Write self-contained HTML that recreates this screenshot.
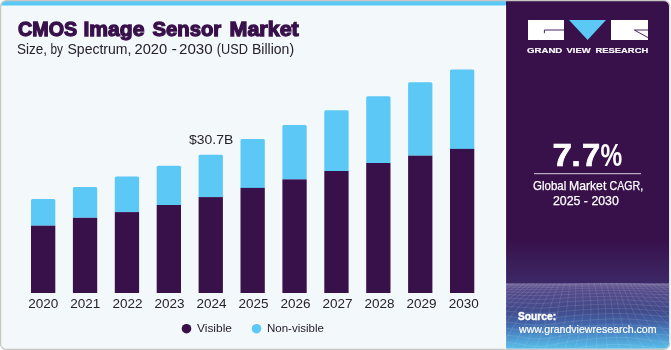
<!DOCTYPE html>
<html><head><meta charset="utf-8">
<style>
html,body{margin:0;padding:0;background:#fff;width:671px;height:350px;overflow:hidden;}
svg{display:block;will-change:transform;font-family:"Liberation Sans", sans-serif;}
</style></head>
<body>
<svg width="671" height="350" viewBox="0 0 671 350">
<defs>
  <clipPath id="card"><rect x="1.1" y="1.1" width="667.9" height="347.7" rx="5" ry="5"/></clipPath>
  <clipPath id="meshclip"><rect x="506" y="283" width="165" height="67"/></clipPath>
  <linearGradient id="meshg" x1="0" y1="0" x2="0" y2="1">
    <stop offset="0" stop-color="#62558f"/>
    <stop offset="0.1" stop-color="#564a8a"/>
    <stop offset="0.42" stop-color="#404b8b"/>
    <stop offset="0.59" stop-color="#4262a6"/>
    <stop offset="0.76" stop-color="#4a8cc8"/>
    <stop offset="1" stop-color="#5ac3ee"/>
  </linearGradient>
  <linearGradient id="purg" x1="0" y1="0" x2="0" y2="1">
    <stop offset="0" stop-color="#38104a"/>
    <stop offset="0.84" stop-color="#38104a"/>
    <stop offset="1" stop-color="#3c2866"/>
  </linearGradient>
</defs>
<rect x="0.6" y="0.6" width="669" height="348.8" rx="5.5" ry="5.5" fill="#f3f8fb"/>
<g clip-path="url(#card)">
  <rect x="0" y="0" width="671" height="5.5" fill="#5bc8f5"/>
  <rect x="506" y="0" width="165" height="283" fill="url(#purg)"/>
  <rect x="506" y="283" width="165" height="67" fill="url(#meshg)"/>
  <g clip-path="url(#meshclip)" stroke="#ffffff" stroke-opacity="0.14" stroke-width="0.8" fill="none">
<path d="M506.0 284.43 L510.1 284.53 L514.1 284.61 L518.2 284.68 L522.3 284.73 L526.4 284.77 L530.5 284.79 L534.5 284.80 L538.6 284.79 L542.7 284.76 L546.8 284.71 L550.8 284.65 L554.9 284.57 L559.0 284.49 L563.0 284.39 L567.1 284.29 L571.2 284.19 L575.3 284.08 L579.4 283.98 L583.4 283.89 L587.5 283.81 L591.6 283.73 L595.6 283.68 L599.7 283.63 L603.8 283.61 L607.9 283.60 L612.0 283.61 L616.0 283.64 L620.1 283.68 L624.2 283.74 L628.2 283.81 L632.3 283.90 L636.4 283.99 L640.5 284.09 L644.5 284.19 L648.6 284.30 L652.7 284.40 L656.8 284.49 L660.9 284.58 L664.9 284.65 L669.0 284.71"/>
<path d="M506.0 284.77 L510.1 284.86 L514.1 284.95 L518.2 285.02 L522.3 285.08 L526.4 285.12 L530.5 285.15 L534.5 285.16 L538.6 285.15 L542.7 285.12 L546.8 285.07 L550.8 285.00 L554.9 284.92 L559.0 284.83 L563.0 284.73 L567.1 284.63 L571.2 284.52 L575.3 284.41 L579.4 284.31 L583.4 284.22 L587.5 284.13 L591.6 284.06 L595.6 284.00 L599.7 283.95 L603.8 283.93 L607.9 283.92 L612.0 283.92 L616.0 283.95 L620.1 283.99 L624.2 284.05 L628.2 284.13 L632.3 284.21 L636.4 284.31 L640.5 284.41 L644.5 284.52 L648.6 284.62 L652.7 284.73 L656.8 284.82 L660.9 284.91 L664.9 284.99 L669.0 285.05"/>
<path d="M506.0 285.69 L510.1 285.79 L514.1 285.88 L518.2 285.96 L522.3 286.03 L526.4 286.09 L530.5 286.12 L534.5 286.14 L538.6 286.13 L542.7 286.10 L546.8 286.04 L550.8 285.97 L554.9 285.87 L559.0 285.77 L563.0 285.66 L567.1 285.54 L571.2 285.43 L575.3 285.32 L579.4 285.21 L583.4 285.11 L587.5 285.02 L591.6 284.94 L595.6 284.87 L599.7 284.82 L603.8 284.79 L607.9 284.78 L612.0 284.78 L616.0 284.81 L620.1 284.85 L624.2 284.91 L628.2 284.99 L632.3 285.07 L636.4 285.17 L640.5 285.28 L644.5 285.40 L648.6 285.51 L652.7 285.62 L656.8 285.72 L660.9 285.82 L664.9 285.90 L669.0 285.97"/>
<path d="M506.0 287.14 L510.1 287.25 L514.1 287.36 L518.2 287.46 L522.3 287.55 L526.4 287.62 L530.5 287.67 L534.5 287.69 L538.6 287.68 L542.7 287.65 L546.8 287.58 L550.8 287.49 L554.9 287.39 L559.0 287.26 L563.0 287.13 L567.1 287.00 L571.2 286.87 L575.3 286.75 L579.4 286.63 L583.4 286.52 L587.5 286.42 L591.6 286.33 L595.6 286.26 L599.7 286.20 L603.8 286.17 L607.9 286.15 L612.0 286.15 L616.0 286.17 L620.1 286.21 L624.2 286.27 L628.2 286.35 L632.3 286.44 L636.4 286.55 L640.5 286.66 L644.5 286.79 L648.6 286.91 L652.7 287.04 L656.8 287.15 L660.9 287.26 L664.9 287.35 L669.0 287.42"/>
<path d="M506.0 289.11 L510.1 289.24 L514.1 289.36 L518.2 289.48 L522.3 289.59 L526.4 289.68 L530.5 289.75 L534.5 289.79 L538.6 289.79 L542.7 289.75 L546.8 289.68 L550.8 289.57 L554.9 289.43 L559.0 289.28 L563.0 289.13 L567.1 288.97 L571.2 288.83 L575.3 288.68 L579.4 288.55 L583.4 288.43 L587.5 288.32 L591.6 288.22 L595.6 288.14 L599.7 288.07 L603.8 288.03 L607.9 288.00 L612.0 287.99 L616.0 288.01 L620.1 288.04 L624.2 288.10 L628.2 288.19 L632.3 288.29 L636.4 288.41 L640.5 288.54 L644.5 288.67 L648.6 288.81 L652.7 288.95 L656.8 289.08 L660.9 289.20 L664.9 289.31 L669.0 289.39"/>
<path d="M506.0 291.58 L510.1 291.73 L514.1 291.88 L518.2 292.02 L522.3 292.16 L526.4 292.28 L530.5 292.37 L534.5 292.43 L538.6 292.44 L542.7 292.39 L546.8 292.30 L550.8 292.16 L554.9 292.00 L559.0 291.82 L563.0 291.63 L567.1 291.45 L571.2 291.27 L575.3 291.11 L579.4 290.96 L583.4 290.83 L587.5 290.70 L591.6 290.59 L595.6 290.50 L599.7 290.42 L603.8 290.36 L607.9 290.32 L612.0 290.31 L616.0 290.31 L620.1 290.35 L624.2 290.41 L628.2 290.50 L632.3 290.61 L636.4 290.74 L640.5 290.88 L644.5 291.04 L648.6 291.20 L652.7 291.36 L656.8 291.51 L660.9 291.64 L664.9 291.76 L669.0 291.86"/>
<path d="M506.0 294.54 L510.1 294.71 L514.1 294.89 L518.2 295.06 L522.3 295.23 L526.4 295.39 L530.5 295.51 L534.5 295.59 L538.6 295.60 L542.7 295.55 L546.8 295.44 L550.8 295.27 L554.9 295.07 L559.0 294.85 L563.0 294.63 L567.1 294.41 L571.2 294.21 L575.3 294.02 L579.4 293.85 L583.4 293.70 L587.5 293.56 L591.6 293.43 L595.6 293.32 L599.7 293.23 L603.8 293.16 L607.9 293.10 L612.0 293.08 L616.0 293.08 L620.1 293.11 L624.2 293.17 L628.2 293.26 L632.3 293.38 L636.4 293.53 L640.5 293.69 L644.5 293.87 L648.6 294.06 L652.7 294.24 L656.8 294.41 L660.9 294.57 L664.9 294.70 L669.0 294.82"/>
<path d="M506.0 297.98 L510.1 298.18 L514.1 298.38 L518.2 298.60 L522.3 298.80 L526.4 299.00 L530.5 299.16 L534.5 299.26 L538.6 299.28 L542.7 299.23 L546.8 299.09 L550.8 298.89 L554.9 298.64 L559.0 298.38 L563.0 298.11 L567.1 297.86 L571.2 297.62 L575.3 297.41 L579.4 297.21 L583.4 297.03 L587.5 296.87 L591.6 296.73 L595.6 296.60 L599.7 296.49 L603.8 296.40 L607.9 296.34 L612.0 296.30 L616.0 296.29 L620.1 296.32 L624.2 296.38 L628.2 296.48 L632.3 296.61 L636.4 296.77 L640.5 296.96 L644.5 297.17 L648.6 297.38 L652.7 297.59 L656.8 297.79 L660.9 297.97 L664.9 298.13 L669.0 298.25"/>
<path d="M506.0 301.89 L510.1 302.12 L514.1 302.36 L518.2 302.61 L522.3 302.87 L526.4 303.11 L530.5 303.30 L534.5 303.43 L538.6 303.47 L542.7 303.41 L546.8 303.24 L550.8 303.00 L554.9 302.71 L559.0 302.39 L563.0 302.07 L567.1 301.77 L571.2 301.50 L575.3 301.25 L579.4 301.03 L583.4 300.83 L587.5 300.65 L591.6 300.48 L595.6 300.34 L599.7 300.21 L603.8 300.10 L607.9 300.02 L612.0 299.96 L616.0 299.95 L620.1 299.97 L624.2 300.03 L628.2 300.13 L632.3 300.28 L636.4 300.47 L640.5 300.68 L644.5 300.91 L648.6 301.16 L652.7 301.40 L656.8 301.63 L660.9 301.84 L664.9 302.02 L669.0 302.16"/>
<path d="M506.0 306.27 L510.1 306.53 L514.1 306.81 L518.2 307.11 L522.3 307.42 L526.4 307.71 L530.5 307.95 L534.5 308.11 L538.6 308.16 L542.7 308.08 L546.8 307.89 L550.8 307.61 L554.9 307.26 L559.0 306.88 L563.0 306.51 L567.1 306.16 L571.2 305.84 L575.3 305.56 L579.4 305.31 L583.4 305.08 L587.5 304.87 L591.6 304.68 L595.6 304.51 L599.7 304.36 L603.8 304.23 L607.9 304.13 L612.0 304.07 L616.0 304.04 L620.1 304.05 L624.2 304.11 L628.2 304.23 L632.3 304.39 L636.4 304.60 L640.5 304.84 L644.5 305.11 L648.6 305.38 L652.7 305.66 L656.8 305.92 L660.9 306.16 L664.9 306.37 L669.0 306.54"/>
<path d="M506.0 311.11 L510.1 311.41 L514.1 311.74 L518.2 312.09 L522.3 312.45 L526.4 312.79 L530.5 313.08 L534.5 313.27 L538.6 313.34 L542.7 313.25 L546.8 313.03 L550.8 312.70 L554.9 312.29 L559.0 311.85 L563.0 311.41 L567.1 311.01 L571.2 310.64 L575.3 310.32 L579.4 310.03 L583.4 309.78 L587.5 309.54 L591.6 309.33 L595.6 309.13 L599.7 308.96 L603.8 308.81 L607.9 308.69 L612.0 308.60 L616.0 308.56 L620.1 308.57 L624.2 308.63 L628.2 308.75 L632.3 308.93 L636.4 309.16 L640.5 309.44 L644.5 309.74 L648.6 310.06 L652.7 310.37 L656.8 310.67 L660.9 310.95 L664.9 311.18 L669.0 311.38"/>
<path d="M506.0 316.41 L510.1 316.75 L514.1 317.12 L518.2 317.53 L522.3 317.95 L526.4 318.35 L530.5 318.69 L534.5 318.92 L538.6 319.00 L542.7 318.91 L546.8 318.65 L550.8 318.26 L554.9 317.79 L559.0 317.28 L563.0 316.78 L567.1 316.31 L571.2 315.89 L575.3 315.53 L579.4 315.20 L583.4 314.91 L587.5 314.65 L591.6 314.41 L595.6 314.19 L599.7 313.98 L603.8 313.81 L607.9 313.66 L612.0 313.56 L616.0 313.50 L620.1 313.51 L624.2 313.57 L628.2 313.70 L632.3 313.90 L636.4 314.16 L640.5 314.47 L644.5 314.81 L648.6 315.17 L652.7 315.53 L656.8 315.87 L660.9 316.18 L664.9 316.45 L669.0 316.67"/>
<path d="M506.0 322.16 L510.1 322.54 L514.1 322.97 L518.2 323.43 L522.3 323.92 L526.4 324.39 L530.5 324.78 L534.5 325.06 L538.6 325.15 L542.7 325.05 L546.8 324.76 L550.8 324.31 L554.9 323.76 L559.0 323.17 L563.0 322.60 L567.1 322.07 L571.2 321.59 L575.3 321.18 L579.4 320.82 L583.4 320.49 L587.5 320.19 L591.6 319.92 L595.6 319.67 L599.7 319.44 L603.8 319.24 L607.9 319.07 L612.0 318.95 L616.0 318.87 L620.1 318.87 L624.2 318.93 L628.2 319.08 L632.3 319.30 L636.4 319.58 L640.5 319.93 L644.5 320.31 L648.6 320.72 L652.7 321.13 L656.8 321.51 L660.9 321.86 L664.9 322.17 L669.0 322.42"/>
<path d="M506.0 328.35 L510.1 328.78 L514.1 329.27 L518.2 329.80 L522.3 330.36 L526.4 330.89 L530.5 331.35 L534.5 331.67 L538.6 331.78 L542.7 331.67 L546.8 331.34 L550.8 330.82 L554.9 330.20 L559.0 329.53 L563.0 328.87 L567.1 328.27 L571.2 327.74 L575.3 327.27 L579.4 326.87 L583.4 326.50 L587.5 326.17 L591.6 325.87 L595.6 325.58 L599.7 325.32 L603.8 325.09 L607.9 324.90 L612.0 324.75 L616.0 324.66 L620.1 324.65 L624.2 324.71 L628.2 324.87 L632.3 325.11 L636.4 325.43 L640.5 325.82 L644.5 326.25 L648.6 326.70 L652.7 327.16 L656.8 327.59 L660.9 327.99 L664.9 328.33 L669.0 328.61"/>
<path d="M506.0 334.99 L510.1 335.48 L514.1 336.02 L518.2 336.62 L522.3 337.25 L526.4 337.87 L530.5 338.39 L534.5 338.76 L538.6 338.89 L542.7 338.76 L546.8 338.38 L550.8 337.80 L554.9 337.09 L559.0 336.34 L563.0 335.60 L567.1 334.92 L571.2 334.32 L575.3 333.80 L579.4 333.35 L583.4 332.95 L587.5 332.58 L591.6 332.24 L595.6 331.92 L599.7 331.63 L603.8 331.36 L607.9 331.14 L612.0 330.97 L616.0 330.87 L620.1 330.84 L624.2 330.91 L628.2 331.08 L632.3 331.34 L636.4 331.70 L640.5 332.13 L644.5 332.61 L648.6 333.11 L652.7 333.62 L656.8 334.11 L660.9 334.55 L664.9 334.93 L669.0 335.25"/>
<path d="M506.0 342.07 L510.1 342.61 L514.1 343.22 L518.2 343.90 L522.3 344.61 L526.4 345.30 L530.5 345.90 L534.5 346.31 L538.6 346.47 L542.7 346.33 L546.8 345.90 L550.8 345.25 L554.9 344.45 L559.0 343.60 L563.0 342.77 L567.1 342.01 L571.2 341.35 L575.3 340.77 L579.4 340.26 L583.4 339.82 L587.5 339.41 L591.6 339.03 L595.6 338.67 L599.7 338.35 L603.8 338.05 L607.9 337.80 L612.0 337.60 L616.0 337.48 L620.1 337.45 L624.2 337.52 L628.2 337.70 L632.3 337.99 L636.4 338.38 L640.5 338.85 L644.5 339.39 L648.6 339.95 L652.7 340.52 L656.8 341.06 L660.9 341.55 L664.9 341.98 L669.0 342.33"/>
<path d="M506.0 349.59 L510.1 350.19 L514.1 350.87 L518.2 351.62 L522.3 352.42 L526.4 353.20 L530.5 353.87 L534.5 354.34 L538.6 354.52 L542.7 354.36 L546.8 353.89 L550.8 353.15 L554.9 352.26 L559.0 351.31 L563.0 350.39 L567.1 349.54 L571.2 348.80 L575.3 348.16 L579.4 347.61 L583.4 347.11 L587.5 346.66 L591.6 346.24 L595.6 345.85 L599.7 345.48 L603.8 345.15 L607.9 344.87 L612.0 344.65 L616.0 344.50 L620.1 344.46 L624.2 344.53 L628.2 344.73 L632.3 345.04 L636.4 345.47 L640.5 346.00 L644.5 346.59 L648.6 347.21 L652.7 347.84 L656.8 348.44 L660.9 348.98 L664.9 349.46 L669.0 349.84"/>
<path d="M506.0 357.55 L510.1 358.21 L514.1 358.96 L518.2 359.80 L522.3 360.68 L526.4 361.55 L530.5 362.31 L534.5 362.83 L538.6 363.03 L542.7 362.86 L546.8 362.33 L550.8 361.52 L554.9 360.53 L559.0 359.47 L563.0 358.44 L567.1 357.51 L571.2 356.69 L575.3 355.99 L579.4 355.37 L583.4 354.83 L587.5 354.33 L591.6 353.87 L595.6 353.44 L599.7 353.04 L603.8 352.67 L607.9 352.35 L612.0 352.10 L616.0 351.94 L620.1 351.88 L624.2 351.95 L628.2 352.16 L632.3 352.51 L636.4 352.98 L640.5 353.55 L644.5 354.20 L648.6 354.89 L652.7 355.58 L656.8 356.24 L660.9 356.85 L664.9 357.37 L669.0 357.79"/>
<path d="M473.1 283.00 L465.7 286.60 L458.4 290.20 L451.2 293.80 L444.1 297.40 L437.1 301.00 L430.2 304.60 L423.2 308.20 L416.2 311.80 L409.2 315.40 L402.1 319.00 L395.0 322.60 L387.6 326.20 L380.2 329.80 L372.6 333.40 L364.9 337.00 L357.0 340.60 L349.0 344.20 L340.9 347.80 L332.7 351.40 L324.5 355.00"/>
<path d="M478.5 283.00 L471.6 286.60 L464.9 290.20 L458.2 293.80 L451.6 297.40 L445.0 301.00 L438.4 304.60 L431.7 308.20 L425.0 311.80 L418.2 315.40 L411.3 319.00 L404.2 322.60 L397.1 326.20 L389.7 329.80 L382.3 333.40 L374.7 337.00 L366.9 340.60 L359.1 344.20 L351.3 347.80 L343.3 351.40 L335.4 355.00"/>
<path d="M484.3 283.00 L477.9 286.60 L471.6 290.20 L465.3 293.80 L459.1 297.40 L452.8 301.00 L446.5 304.60 L440.1 308.20 L433.5 311.80 L426.9 315.40 L420.1 319.00 L413.2 322.60 L406.1 326.20 L398.9 329.80 L391.6 333.40 L384.2 337.00 L376.6 340.60 L369.1 344.20 L361.5 347.80 L354.0 351.40 L346.5 355.00"/>
<path d="M490.3 283.00 L484.3 286.60 L478.4 290.20 L472.5 293.80 L466.5 297.40 L460.5 301.00 L454.4 304.60 L448.1 308.20 L441.7 311.80 L435.2 315.40 L428.6 319.00 L421.8 322.60 L414.8 326.20 L407.8 329.80 L400.6 333.40 L393.5 337.00 L386.2 340.60 L379.0 344.20 L371.8 347.80 L364.7 351.40 L357.7 355.00"/>
<path d="M496.4 283.00 L490.8 286.60 L485.2 290.20 L479.6 293.80 L473.8 297.40 L468.0 301.00 L462.0 304.60 L455.9 308.20 L449.6 311.80 L443.2 315.40 L436.7 319.00 L430.0 322.60 L423.3 326.20 L416.4 329.80 L409.6 333.40 L402.7 337.00 L395.8 340.60 L389.0 344.20 L382.3 347.80 L375.7 351.40 L369.2 355.00"/>
<path d="M502.5 283.00 L497.2 286.60 L491.8 290.20 L486.4 293.80 L480.8 297.40 L475.1 301.00 L469.2 304.60 L463.2 308.20 L457.1 311.80 L450.8 315.40 L444.5 319.00 L438.0 322.60 L431.5 326.20 L425.0 329.80 L418.4 333.40 L412.0 337.00 L405.5 340.60 L399.2 344.20 L393.0 347.80 L386.9 351.40 L381.0 355.00"/>
<path d="M508.5 283.00 L503.4 286.61 L498.2 290.21 L492.9 293.80 L487.5 297.40 L481.9 301.00 L476.1 304.60 L470.3 308.20 L464.3 311.80 L458.2 315.40 L452.1 319.00 L445.9 322.60 L439.7 326.20 L433.5 329.80 L427.4 333.40 L421.4 337.00 L415.5 340.60 L409.7 344.20 L404.1 347.80 L398.6 351.40 L393.2 355.00"/>
<path d="M514.3 283.00 L509.3 286.62 L504.3 290.22 L499.1 293.81 L493.8 297.41 L488.3 301.00 L482.7 304.60 L477.0 308.20 L471.2 311.80 L465.4 315.40 L459.6 319.00 L453.7 322.60 L448.0 326.20 L442.2 329.80 L436.6 333.40 L431.1 337.00 L425.8 340.60 L420.6 344.20 L415.5 347.80 L410.5 351.40 L405.7 355.00"/>
<path d="M519.7 283.00 L514.9 286.63 L510.0 290.24 L504.9 293.83 L499.7 297.42 L494.4 301.01 L489.0 304.60 L483.6 308.20 L478.1 311.80 L472.6 315.40 L467.1 319.00 L461.7 322.60 L456.4 326.20 L451.2 329.80 L446.1 333.40 L441.2 337.00 L436.4 340.60 L431.8 344.20 L427.3 347.80 L422.9 351.40 L418.6 355.00"/>
<path d="M524.8 283.00 L520.1 286.65 L515.3 290.26 L510.4 293.86 L505.4 297.44 L500.3 301.02 L495.2 304.61 L490.0 308.20 L484.9 311.80 L479.8 315.40 L474.8 319.00 L469.9 322.60 L465.1 326.20 L460.5 329.80 L456.0 333.40 L451.6 337.00 L447.4 340.60 L443.3 344.20 L439.3 347.80 L435.4 351.40 L431.5 355.00"/>
<path d="M529.6 283.00 L525.0 286.67 L520.4 290.30 L515.7 293.90 L510.9 297.48 L506.1 301.05 L501.3 304.63 L496.5 308.22 L491.8 311.81 L487.2 315.40 L482.7 319.00 L478.4 322.60 L474.2 326.20 L470.1 329.80 L466.2 333.40 L462.4 337.00 L458.7 340.60 L455.1 344.20 L451.6 347.80 L448.1 351.40 L444.6 355.00"/>
<path d="M534.0 283.00 L529.6 286.69 L525.2 290.34 L520.8 293.96 L516.3 297.54 L511.9 301.11 L507.5 304.68 L503.2 308.25 L499.0 311.83 L495.0 315.42 L491.0 319.01 L487.2 322.60 L483.6 326.20 L480.1 329.80 L476.7 333.40 L473.4 337.00 L470.2 340.60 L467.1 344.20 L463.9 347.80 L460.8 351.40 L457.6 355.00"/>
<path d="M538.2 283.00 L534.1 286.70 L530.0 290.38 L525.9 294.02 L521.8 297.63 L517.8 301.20 L513.9 304.77 L510.2 308.32 L506.5 311.89 L503.0 315.46 L499.7 319.04 L496.5 322.62 L493.4 326.22 L490.4 329.81 L487.5 333.41 L484.7 337.00 L481.9 340.60 L479.1 344.20 L476.2 347.80 L473.3 351.40 L470.3 355.00"/>
<path d="M542.2 283.00 L538.5 286.71 L534.7 290.41 L531.1 294.09 L527.5 297.73 L524.0 301.33 L520.6 304.91 L517.4 308.48 L514.4 312.03 L511.5 315.59 L508.7 319.15 L506.0 322.71 L503.4 326.28 L500.9 329.86 L498.4 333.44 L496.0 337.03 L493.5 340.62 L491.0 344.21 L488.4 347.81 L485.7 351.40 L482.8 355.00"/>
<path d="M546.3 283.00 L542.9 286.71 L539.7 290.42 L536.5 294.13 L533.4 297.81 L530.5 301.47 L527.7 305.09 L525.1 308.70 L522.6 312.28 L520.2 315.85 L518.0 319.41 L515.8 322.97 L513.6 326.52 L511.5 330.07 L509.4 333.63 L507.3 337.18 L505.0 340.74 L502.7 344.31 L500.3 347.88 L497.7 351.45 L495.0 355.03"/>
<path d="M550.5 283.00 L547.6 286.70 L544.8 290.41 L542.2 294.13 L539.7 297.85 L537.4 301.55 L535.2 305.24 L533.1 308.91 L531.1 312.56 L529.3 316.20 L527.4 319.81 L525.7 323.41 L523.9 326.99 L522.1 330.56 L520.3 334.11 L518.3 337.64 L516.3 341.16 L514.1 344.68 L511.8 348.19 L509.4 351.71 L506.8 355.23"/>
<path d="M554.9 283.00 L552.5 286.68 L550.3 290.38 L548.3 294.09 L546.4 297.81 L544.6 301.54 L542.9 305.26 L541.4 308.98 L539.9 312.70 L538.4 316.41 L537.0 320.10 L535.6 323.79 L534.1 327.46 L532.6 331.11 L530.9 334.73 L529.2 338.32 L527.3 341.89 L525.2 345.42 L523.0 348.92 L520.7 352.39 L518.2 355.85"/>
<path d="M559.6 283.00 L557.8 286.66 L556.2 290.33 L554.7 294.02 L553.4 297.71 L552.1 301.42 L550.9 305.13 L549.8 308.84 L548.8 312.57 L547.7 316.30 L546.6 320.03 L545.4 323.76 L544.2 327.50 L542.8 331.24 L541.3 334.97 L539.6 338.69 L537.9 342.38 L535.9 346.05 L533.9 349.67 L531.7 353.25 L529.4 356.79"/>
<path d="M564.7 283.00 L563.5 286.64 L562.4 290.28 L561.5 293.93 L560.6 297.59 L559.8 301.25 L559.1 304.92 L558.4 308.59 L557.6 312.27 L556.8 315.96 L556.0 319.66 L555.0 323.38 L553.9 327.10 L552.7 330.85 L551.3 334.61 L549.8 338.39 L548.1 342.17 L546.3 345.96 L544.4 349.74 L542.4 353.51 L540.4 357.25"/>
<path d="M570.1 283.00 L569.5 286.62 L568.9 290.24 L568.5 293.86 L568.1 297.48 L567.7 301.11 L567.3 304.74 L566.9 308.37 L566.4 312.01 L565.8 315.65 L565.1 319.30 L564.3 322.96 L563.3 326.63 L562.2 330.32 L560.9 334.03 L559.5 337.76 L558.0 341.52 L556.4 345.29 L554.8 349.09 L553.1 352.90 L551.4 356.72"/>
<path d="M575.9 283.00 L575.7 286.61 L575.7 290.21 L575.6 293.82 L575.6 297.42 L575.5 301.03 L575.4 304.64 L575.2 308.25 L574.9 311.86 L574.5 315.47 L573.9 319.09 L573.2 322.71 L572.3 326.34 L571.3 329.97 L570.2 333.62 L569.0 337.28 L567.7 340.95 L566.4 344.64 L565.0 348.34 L563.7 352.06 L562.4 355.79"/>
<path d="M581.9 283.00 L582.2 286.60 L582.5 290.20 L582.8 293.79 L583.0 297.39 L583.2 300.98 L583.3 304.58 L583.3 308.18 L583.1 311.78 L582.8 315.38 L582.3 318.98 L581.7 322.58 L581.0 326.19 L580.2 329.80 L579.3 333.41 L578.3 337.03 L577.3 340.66 L576.3 344.28 L575.3 347.91 L574.4 351.55 L573.6 355.18"/>
<path d="M588.0 283.00 L588.7 286.59 L589.3 290.18 L589.8 293.77 L590.3 297.36 L590.7 300.95 L590.9 304.53 L591.0 308.12 L590.9 311.71 L590.8 315.30 L590.4 318.90 L590.0 322.49 L589.4 326.09 L588.8 329.69 L588.2 333.29 L587.5 336.89 L586.9 340.49 L586.3 344.10 L585.8 347.70 L585.4 351.30 L585.1 354.90"/>
<path d="M594.1 283.00 L595.1 286.58 L595.9 290.17 L596.7 293.75 L597.3 297.32 L597.8 300.90 L598.1 304.48 L598.4 308.06 L598.4 311.64 L598.4 315.22 L598.2 318.80 L598.0 322.38 L597.7 325.97 L597.4 329.55 L597.1 333.14 L596.8 336.73 L596.6 340.31 L596.5 343.90 L596.6 347.48 L596.7 351.06 L597.0 354.63"/>
<path d="M600.1 283.00 L601.3 286.58 L602.3 290.15 L603.2 293.72 L603.9 297.28 L604.6 300.85 L605.0 304.41 L605.4 307.98 L605.6 311.54 L605.7 315.11 L605.8 318.67 L605.8 322.24 L605.9 325.81 L605.9 329.37 L606.1 332.94 L606.3 336.50 L606.6 340.06 L607.0 343.61 L607.6 347.16 L608.4 350.69 L609.2 354.23"/>
<path d="M605.9 283.00 L607.2 286.56 L608.3 290.13 L609.3 293.68 L610.2 297.24 L611.0 300.79 L611.6 304.34 L612.1 307.89 L612.5 311.44 L612.9 314.99 L613.3 318.54 L613.7 322.09 L614.1 325.63 L614.7 329.17 L615.3 332.71 L616.0 336.25 L616.9 339.77 L617.9 343.30 L619.1 346.82 L620.4 350.33 L621.8 353.84"/>
<path d="M611.3 283.00 L612.7 286.56 L614.0 290.11 L615.1 293.65 L616.2 297.20 L617.1 300.74 L617.9 304.28 L618.6 307.82 L619.4 311.36 L620.1 314.90 L620.9 318.43 L621.7 321.96 L622.6 325.49 L623.6 329.02 L624.8 332.55 L626.1 336.08 L627.5 339.61 L629.1 343.14 L630.8 346.68 L632.7 350.22 L634.6 353.78"/>
<path d="M616.4 283.00 L617.9 286.55 L619.3 290.09 L620.6 293.63 L621.8 297.17 L622.9 300.70 L624.0 304.24 L625.1 307.77 L626.2 311.31 L627.3 314.84 L628.6 318.38 L629.9 321.91 L631.3 325.45 L632.9 329.00 L634.7 332.55 L636.5 336.11 L638.5 339.68 L640.7 343.26 L642.9 346.87 L645.2 350.48 L647.6 354.11"/>
<path d="M621.1 283.00 L622.8 286.54 L624.4 290.08 L625.9 293.62 L627.3 297.15 L628.7 300.69 L630.1 304.23 L631.6 307.76 L633.1 311.31 L634.8 314.85 L636.5 318.40 L638.4 321.96 L640.4 325.54 L642.6 329.12 L644.9 332.72 L647.3 336.33 L649.9 339.95 L652.5 343.59 L655.2 347.24 L657.9 350.90 L660.6 354.56"/>
<path d="M625.5 283.00 L627.4 286.54 L629.2 290.08 L631.0 293.61 L632.7 297.15 L634.5 300.69 L636.4 304.24 L638.3 307.79 L640.3 311.36 L642.5 314.93 L644.8 318.51 L647.3 322.11 L649.9 325.72 L652.6 329.34 L655.4 332.97 L658.4 336.62 L661.4 340.27 L664.5 343.92 L667.5 347.56 L670.6 351.21 L673.6 354.85"/>
<path d="M629.7 283.00 L631.8 286.54 L633.9 290.08 L636.1 293.62 L638.2 297.17 L640.5 300.72 L642.8 304.29 L645.3 307.86 L647.9 311.45 L650.6 315.05 L653.5 318.66 L656.5 322.28 L659.6 325.92 L662.9 329.56 L666.2 333.20 L669.6 336.84 L673.0 340.47 L676.5 344.10 L679.8 347.73 L683.2 351.35 L686.4 354.96"/>
<path d="M633.8 283.00 L636.2 286.54 L638.7 290.09 L641.3 293.64 L643.9 297.20 L646.7 300.77 L649.5 304.35 L652.6 307.95 L655.7 311.56 L659.0 315.18 L662.5 318.81 L666.0 322.44 L669.7 326.07 L673.4 329.70 L677.2 333.33 L680.9 336.95 L684.7 340.56 L688.4 344.18 L692.0 347.78 L695.5 351.39 L698.9 354.99"/>
<path d="M637.8 283.00 L640.7 286.54 L643.6 290.10 L646.7 293.66 L649.9 297.24 L653.2 300.83 L656.6 304.43 L660.2 308.04 L664.0 311.66 L667.8 315.29 L671.8 318.91 L675.8 322.53 L679.9 326.15 L684.0 329.77 L688.1 333.38 L692.2 336.99 L696.2 340.59 L700.1 344.20 L703.9 347.80 L707.5 351.40 L711.0 355.00"/>
<path d="M642.0 283.00 L645.4 286.55 L648.8 290.12 L652.4 293.69 L656.2 297.28 L660.1 300.89 L664.1 304.50 L668.2 308.11 L672.5 311.73 L676.9 315.35 L681.3 318.97 L685.7 322.58 L690.2 326.19 L694.6 329.79 L699.0 333.40 L703.3 337.00 L707.4 340.60 L711.5 344.20 L715.4 347.80 L719.2 351.40 L722.8 355.00"/>
<path d="M646.4 283.00 L650.3 286.56 L654.4 290.14 L658.5 293.72 L662.8 297.32 L667.3 300.93 L671.9 304.55 L676.5 308.16 L681.3 311.77 L686.1 315.38 L690.9 318.99 L695.7 322.59 L700.4 326.20 L705.1 329.80 L709.6 333.40 L714.1 337.00 L718.4 340.60 L722.5 344.20 L726.6 347.80 L730.4 351.40 L734.2 355.00"/>
<path d="M651.2 283.00 L655.6 286.57 L660.2 290.15 L665.0 293.75 L669.9 297.36 L674.8 300.97 L679.9 304.58 L685.0 308.18 L690.2 311.79 L695.3 315.40 L700.4 319.00 L705.5 322.60 L710.4 326.20 L715.3 329.80 L720.0 333.40 L724.5 337.00 L729.0 340.60 L733.2 344.20 L737.4 347.80 L741.4 351.40 L745.4 355.00"/>
<path d="M656.3 283.00 L661.3 286.58 L666.5 290.17 L671.8 293.77 L677.1 297.38 L682.6 300.99 L688.1 304.59 L693.6 308.20 L699.0 311.80 L704.5 315.40 L709.8 319.00 L715.0 322.60 L720.1 326.20 L725.1 329.80 L729.9 333.40 L734.6 337.00 L739.2 340.60 L743.6 344.20 L747.9 347.80 L752.2 351.40 L756.4 355.00"/>
<path d="M661.7 283.00 L667.3 286.59 L673.0 290.18 L678.8 293.79 L684.6 297.39 L690.4 300.99 L696.3 304.60 L702.1 308.20 L707.8 311.80 L713.4 315.40 L718.9 319.00 L724.3 322.60 L729.5 326.20 L734.6 329.80 L739.6 333.40 L744.4 337.00 L749.1 340.60 L753.7 344.20 L758.3 347.80 L762.8 351.40 L767.3 355.00"/>
<path d="M667.5 283.00 L673.6 286.59 L679.7 290.19 L685.9 293.79 L692.1 297.40 L698.3 301.00 L704.4 304.60 L710.4 308.20 L716.3 311.80 L722.1 315.40 L727.7 319.00 L733.2 322.60 L738.5 326.20 L743.8 329.80 L748.9 333.40 L753.9 337.00 L758.8 340.60 L763.7 344.20 L768.5 347.80 L773.4 351.40 L778.4 355.00"/>
<path d="M673.5 283.00 L680.0 286.60 L686.6 290.20 L693.1 293.80 L699.6 297.40 L706.0 301.00 L712.2 304.60 L718.4 308.20 L724.5 311.80 L730.4 315.40 L736.1 319.00 L741.7 322.60 L747.2 326.20 L752.6 329.80 L757.9 333.40 L763.1 337.00 L768.4 340.60 L773.6 344.20 L778.9 347.80 L784.2 351.40 L789.6 355.00"/>
<path d="M679.6 283.00 L686.5 286.60 L693.3 290.20 L700.1 293.80 L706.8 297.40 L713.4 301.00 L719.8 304.60 L726.1 308.20 L732.3 311.80 L738.3 315.40 L744.2 319.00 L750.0 322.60 L755.6 326.20 L761.2 329.80 L766.8 333.40 L772.4 337.00 L778.0 340.60 L783.6 344.20 L789.3 347.80 L795.2 351.40 L801.1 355.00"/>
<path d="M685.7 283.00 L692.9 286.60 L700.0 290.20 L706.9 293.80 L713.8 297.40 L720.5 301.00 L727.1 304.60 L733.5 308.20 L739.8 311.80 L745.9 315.40 L752.0 319.00 L757.9 322.60 L763.9 326.20 L769.8 329.80 L775.7 333.40 L781.7 337.00 L787.7 340.60 L793.8 344.20 L800.1 347.80 L806.5 351.40 L813.0 355.00"/>
<path d="M691.7 283.00 L699.1 286.60 L706.3 290.20 L713.4 293.80 L720.4 297.40 L727.2 301.00 L733.9 304.60 L740.5 308.20 L746.9 311.80 L753.3 315.40 L759.6 319.00 L765.8 322.60 L772.1 326.20 L778.4 329.80 L784.7 333.40 L791.1 337.00 L797.7 340.60 L804.4 344.20 L811.2 347.80 L818.1 351.40 L825.2 355.00"/>
<path d="M697.5 283.00 L705.0 286.60 L712.4 290.20 L719.6 293.80 L726.7 297.40 L733.6 301.00 L740.5 304.60 L747.2 308.20 L753.8 311.80 L760.5 315.40 L767.1 319.00 L773.7 322.60 L780.3 326.20 L787.1 329.80 L793.9 333.40 L800.9 337.00 L808.0 340.60 L815.2 344.20 L822.6 347.80 L830.2 351.40 L837.8 355.00"/>
<path d="M702.9 283.00 L710.5 286.60 L718.0 290.20 L725.4 293.80 L732.6 297.40 L739.7 301.00 L746.7 304.60 L753.7 308.20 L760.7 311.80 L767.6 315.40 L774.6 319.00 L781.7 322.60 L788.8 326.20 L796.1 329.80 L803.5 333.40 L811.0 337.00 L818.7 340.60 L826.5 344.20 L834.4 347.80 L842.5 351.40 L850.6 355.00"/>
  </g>
</g>
<rect x="0.6" y="0.6" width="669" height="348.8" rx="5.5" ry="5.5" fill="none" stroke="#c9c7c4" stroke-width="1.2"/>
<line x1="669.7" y1="6" x2="669.7" y2="343" stroke="#e2e5e6" stroke-width="1.2"/>
<line x1="505.6" y1="5.5" x2="505.6" y2="349" stroke="#ffffff" stroke-width="0.8"/>
<path d="M31.00 225.70 V200.50 Q31.00 199.00 32.50 199.00 H53.80 Q55.30 199.00 55.30 200.50 V225.70 Z" fill="#5bc8f5"/>
<rect x="31.00" y="225.70" width="24.3" height="67.30" fill="#38104a"/>
<text x="43.35" y="307.6" font-size="13.5" fill="#27212c" text-anchor="middle">2020</text>
<path d="M72.90 217.80 V188.50 Q72.90 187.00 74.40 187.00 H95.70 Q97.20 187.00 97.20 188.50 V217.80 Z" fill="#5bc8f5"/>
<rect x="72.90" y="217.80" width="24.3" height="75.20" fill="#38104a"/>
<text x="85.38" y="307.6" font-size="13.5" fill="#27212c" text-anchor="middle">2021</text>
<path d="M114.80 212.10 V178.00 Q114.80 176.50 116.30 176.50 H137.60 Q139.10 176.50 139.10 178.00 V212.10 Z" fill="#5bc8f5"/>
<rect x="114.80" y="212.10" width="24.3" height="80.90" fill="#38104a"/>
<text x="127.41" y="307.6" font-size="13.5" fill="#27212c" text-anchor="middle">2022</text>
<path d="M156.70 205.00 V167.20 Q156.70 165.70 158.20 165.70 H179.50 Q181.00 165.70 181.00 167.20 V205.00 Z" fill="#5bc8f5"/>
<rect x="156.70" y="205.00" width="24.3" height="88.00" fill="#38104a"/>
<text x="169.44" y="307.6" font-size="13.5" fill="#27212c" text-anchor="middle">2023</text>
<path d="M198.60 197.10 V156.20 Q198.60 154.70 200.10 154.70 H221.40 Q222.90 154.70 222.90 156.20 V197.10 Z" fill="#5bc8f5"/>
<rect x="198.60" y="197.10" width="24.3" height="95.90" fill="#38104a"/>
<text x="211.47" y="307.6" font-size="13.5" fill="#27212c" text-anchor="middle">2024</text>
<path d="M240.50 187.90 V140.60 Q240.50 139.10 242.00 139.10 H263.30 Q264.80 139.10 264.80 140.60 V187.90 Z" fill="#5bc8f5"/>
<rect x="240.50" y="187.90" width="24.3" height="105.10" fill="#38104a"/>
<text x="253.50" y="307.6" font-size="13.5" fill="#27212c" text-anchor="middle">2025</text>
<path d="M282.40 179.40 V126.40 Q282.40 124.90 283.90 124.90 H305.20 Q306.70 124.90 306.70 126.40 V179.40 Z" fill="#5bc8f5"/>
<rect x="282.40" y="179.40" width="24.3" height="113.60" fill="#38104a"/>
<text x="295.53" y="307.6" font-size="13.5" fill="#27212c" text-anchor="middle">2026</text>
<path d="M324.30 171.00 V111.80 Q324.30 110.30 325.80 110.30 H347.10 Q348.60 110.30 348.60 111.80 V171.00 Z" fill="#5bc8f5"/>
<rect x="324.30" y="171.00" width="24.3" height="122.00" fill="#38104a"/>
<text x="337.56" y="307.6" font-size="13.5" fill="#27212c" text-anchor="middle">2027</text>
<path d="M366.20 163.00 V97.70 Q366.20 96.20 367.70 96.20 H389.00 Q390.50 96.20 390.50 97.70 V163.00 Z" fill="#5bc8f5"/>
<rect x="366.20" y="163.00" width="24.3" height="130.00" fill="#38104a"/>
<text x="379.59" y="307.6" font-size="13.5" fill="#27212c" text-anchor="middle">2028</text>
<path d="M408.10 155.70 V83.80 Q408.10 82.30 409.60 82.30 H430.90 Q432.40 82.30 432.40 83.80 V155.70 Z" fill="#5bc8f5"/>
<rect x="408.10" y="155.70" width="24.3" height="137.30" fill="#38104a"/>
<text x="421.62" y="307.6" font-size="13.5" fill="#27212c" text-anchor="middle">2029</text>
<path d="M450.00 148.90 V71.00 Q450.00 69.50 451.50 69.50 H472.80 Q474.30 69.50 474.30 71.00 V148.90 Z" fill="#5bc8f5"/>
<rect x="450.00" y="148.90" width="24.3" height="144.10" fill="#38104a"/>
<text x="463.65" y="307.6" font-size="13.5" fill="#27212c" text-anchor="middle">2030</text>
<circle cx="186.5" cy="328.7" r="4.8" fill="#38104a"/>
<circle cx="256.5" cy="328.7" r="4.8" fill="#5bc8f5"/>
<rect x="528" y="20" width="36" height="20" fill="#ffffff"/>
<path d="M544.4 33.2 V30 H564" stroke="#38104a" stroke-width="0.9" fill="none"/>
<polygon points="569,20 606,20 587.6,40" fill="#5bc8f5"/>
<rect x="611" y="20" width="37" height="20" fill="#ffffff"/>
<path d="M648 30 H634.3 L648 37.6" stroke="#38104a" stroke-width="0.9" fill="none"/>
<line x1="534" y1="173.7" x2="641" y2="173.7" stroke="#d8d0dc" stroke-width="1"/>
<text x="18.00" y="35.6" font-size="20.5" font-weight="bold" fill="#38104a" stroke="#38104a" stroke-width="1.3" textLength="59.10" lengthAdjust="spacingAndGlyphs">CMOS</text>
<text x="83.50" y="35.6" font-size="20.5" font-weight="bold" fill="#38104a" stroke="#38104a" stroke-width="1.3" textLength="60.85" lengthAdjust="spacingAndGlyphs">Image</text>
<text x="152.50" y="35.6" font-size="20.5" font-weight="bold" fill="#38104a" stroke="#38104a" stroke-width="1.3" textLength="68.70" lengthAdjust="spacingAndGlyphs">Sensor</text>
<text x="229.50" y="35.6" font-size="20.5" font-weight="bold" fill="#38104a" stroke="#38104a" stroke-width="1.3" textLength="69.29" lengthAdjust="spacingAndGlyphs">Market</text>
<text x="17.00" y="54" font-size="13.9" font-weight="normal" fill="#27212c"  textLength="30.09" lengthAdjust="spacingAndGlyphs">Size,</text>
<text x="50.50" y="54" font-size="13.9" font-weight="normal" fill="#27212c"  textLength="12.47" lengthAdjust="spacingAndGlyphs">by</text>
<text x="67.50" y="54" font-size="13.9" font-weight="normal" fill="#27212c"  textLength="63.91" lengthAdjust="spacingAndGlyphs">Spectrum,</text>
<text x="134.50" y="54" font-size="13.9" font-weight="normal" fill="#27212c"  textLength="32.71" lengthAdjust="spacingAndGlyphs">2020</text>
<text x="171.50" y="54" font-size="13.9" font-weight="normal" fill="#27212c"  textLength="5.44" lengthAdjust="spacingAndGlyphs">-</text>
<text x="179.00" y="54" font-size="13.9" font-weight="normal" fill="#27212c"  textLength="33.71" lengthAdjust="spacingAndGlyphs">2030</text>
<text x="216.75" y="54" font-size="13.9" font-weight="normal" fill="#27212c"  textLength="31.17" lengthAdjust="spacingAndGlyphs">(USD</text>
<text x="252.00" y="54" font-size="13.9" font-weight="normal" fill="#27212c"  textLength="42.09" lengthAdjust="spacingAndGlyphs">Billion)</text>
<text x="189.00" y="143.9" font-size="13.2" font-weight="normal" fill="#27212c"  textLength="44.21" lengthAdjust="spacingAndGlyphs">$30.7B</text>
<text x="197.00" y="331.7" font-size="11.6" font-weight="normal" fill="#27212c"  textLength="34.95" lengthAdjust="spacingAndGlyphs">Visible</text>
<text x="267.00" y="331.7" font-size="11.6" font-weight="normal" fill="#27212c"  textLength="56.96" lengthAdjust="spacingAndGlyphs">Non-visible</text>
<text x="527.00" y="53.3" font-size="8.0" font-weight="bold" fill="#ffffff" stroke="#ffffff" stroke-width="0.15" textLength="35.34" lengthAdjust="spacingAndGlyphs">GRAND</text>
<text x="566.50" y="53.3" font-size="8.0" font-weight="bold" fill="#ffffff" stroke="#ffffff" stroke-width="0.15" textLength="24.05" lengthAdjust="spacingAndGlyphs">VIEW</text>
<text x="595.50" y="53.3" font-size="8.0" font-weight="bold" fill="#ffffff" stroke="#ffffff" stroke-width="0.15" textLength="52.71" lengthAdjust="spacingAndGlyphs">RESEARCH</text>
<text x="552.50" y="165.6" font-size="30.5" font-weight="bold" fill="#ffffff" stroke="#ffffff" stroke-width="0.7" textLength="19.37" lengthAdjust="spacingAndGlyphs">7</text>
<text x="571.50" y="165.6" font-size="30.5" font-weight="bold" fill="#ffffff" stroke="#ffffff" stroke-width="0.7" textLength="9.08" lengthAdjust="spacingAndGlyphs">.</text>
<text x="582.00" y="165.6" font-size="30.5" font-weight="bold" fill="#ffffff" stroke="#ffffff" stroke-width="0.7" textLength="18.17" lengthAdjust="spacingAndGlyphs">7</text>
<text x="600.50" y="165.6" font-size="30.5" font-weight="bold" fill="#ffffff"  textLength="21.72" lengthAdjust="spacingAndGlyphs">%</text>
<text x="533.00" y="190.3" font-size="12.6" font-weight="normal" fill="#ffffff" stroke="#ffffff" stroke-width="0.25" textLength="33.21" lengthAdjust="spacingAndGlyphs">Global</text>
<text x="569.00" y="190.3" font-size="12.6" font-weight="normal" fill="#ffffff" stroke="#ffffff" stroke-width="0.25" textLength="37.30" lengthAdjust="spacingAndGlyphs">Market</text>
<text x="609.50" y="190.3" font-size="12.6" font-weight="normal" fill="#ffffff" stroke="#ffffff" stroke-width="0.25" textLength="33.69" lengthAdjust="spacingAndGlyphs">CAGR,</text>
<text x="553.00" y="205" font-size="12.6" font-weight="normal" fill="#ffffff" stroke="#ffffff" stroke-width="0.25" textLength="65.83" lengthAdjust="spacingAndGlyphs">2025 - 2030</text>
<text x="518.00" y="319.9" font-size="10.3" font-weight="bold" fill="#ffffff" stroke="#ffffff" stroke-width="0.4" textLength="38.14" lengthAdjust="spacingAndGlyphs">Source:</text>
<text x="519.00" y="333" font-size="11.5" font-weight="normal" fill="#ffffff" stroke="#ffffff" stroke-width="0.2" textLength="137.56" lengthAdjust="spacingAndGlyphs">www.grandviewresearch.com</text>
</svg>
</body></html>
